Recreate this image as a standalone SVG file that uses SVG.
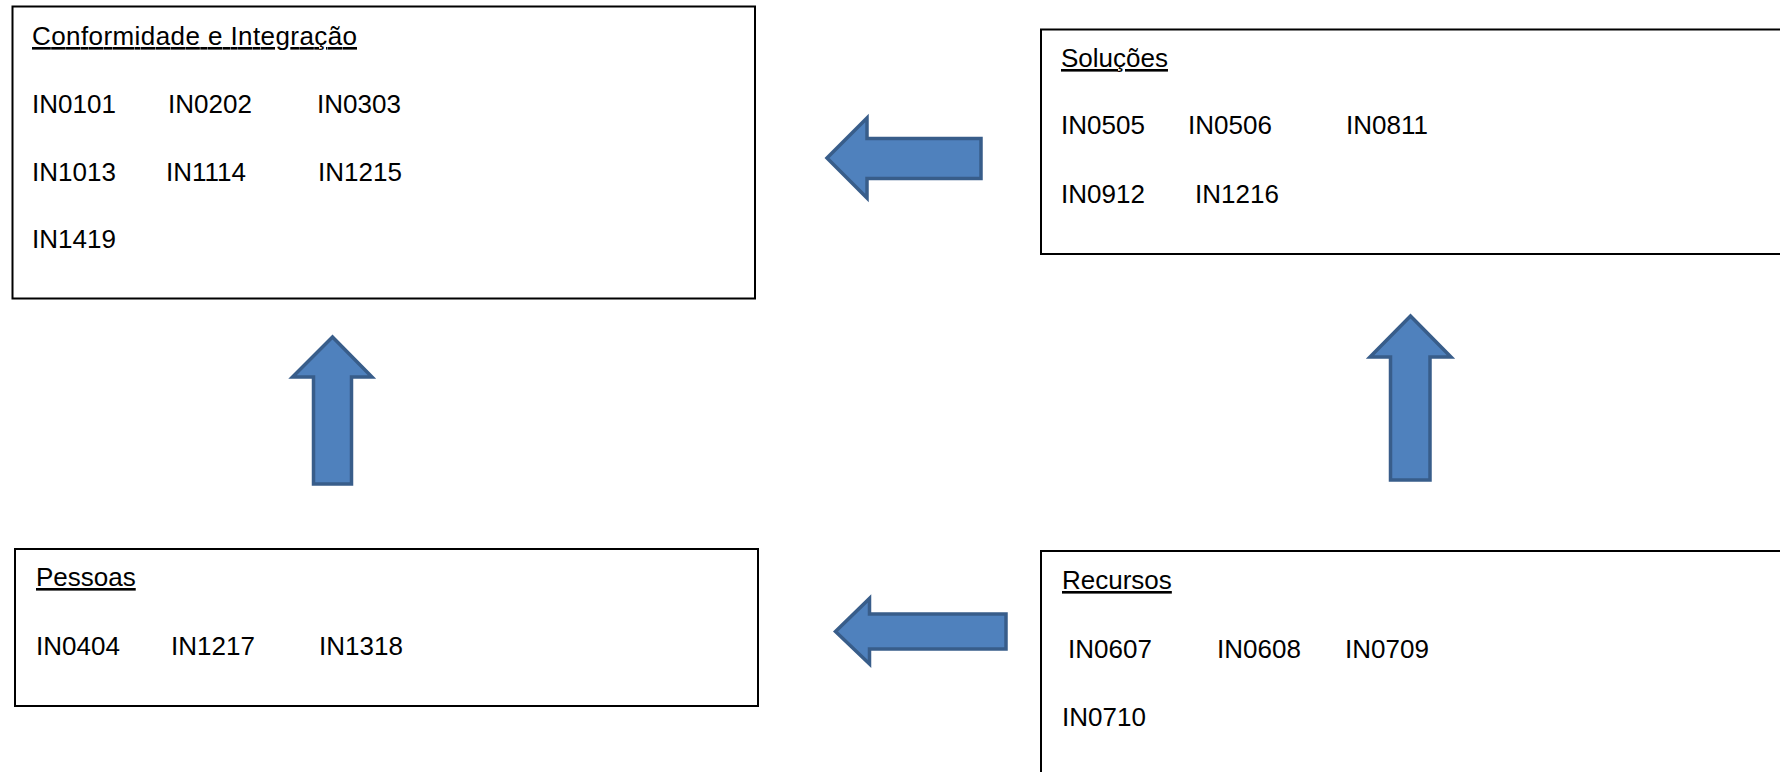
<svg xmlns="http://www.w3.org/2000/svg" width="1780" height="772" viewBox="0 0 1780 772">
<style>
.box{fill:#fff;stroke:#000;stroke-width:2}
.t{font-family:"Liberation Sans",Arial,sans-serif;font-size:26px;fill:#000}
.h{text-decoration:underline}
.arr{fill:#4F81BD;stroke:#385D8A;stroke-width:3.5;stroke-linejoin:miter}
</style>
<rect width="1780" height="772" fill="#fff"/>
<g id="node-conformidade">
<rect class="box" x="12.5" y="6.5" width="742.5" height="292"/>
<text class="t h" x="32" y="45" textLength="325">Conformidade e Integração</text>
<text class="t" x="32" y="113">IN0101</text>
<text class="t" x="168" y="113">IN0202</text>
<text class="t" x="317" y="113">IN0303</text>
<text class="t" x="32" y="181">IN1013</text>
<text class="t" x="166" y="181">IN1114</text>
<text class="t" x="318" y="181">IN1215</text>
<text class="t" x="32" y="248">IN1419</text>
</g>
<g id="node-solucoes">
<rect class="box" x="1041" y="29.5" width="760" height="224.5"/>
<text class="t h" x="1061" y="67">Soluções</text>
<text class="t" x="1061" y="134">IN0505</text>
<text class="t" x="1188" y="134">IN0506</text>
<text class="t" x="1346" y="134">IN0811</text>
<text class="t" x="1061" y="203">IN0912</text>
<text class="t" x="1195" y="203">IN1216</text>
</g>
<g id="node-pessoas">
<rect class="box" x="15" y="549" width="743" height="157"/>
<text class="t h" x="36" y="586">Pessoas</text>
<text class="t" x="36" y="655">IN0404</text>
<text class="t" x="171" y="655">IN1217</text>
<text class="t" x="319" y="655">IN1318</text>
</g>
<g id="node-recursos">
<rect class="box" x="1041" y="551" width="760" height="240"/>
<text class="t h" x="1062" y="589">Recursos</text>
<text class="t" x="1068" y="658">IN0607</text>
<text class="t" x="1217" y="658">IN0608</text>
<text class="t" x="1345" y="658">IN0709</text>
<text class="t" x="1062" y="726">IN0710</text>
</g>
<g id="connectors">
<polygon class="arr" points="827,158 867,118 867,138.5 981,138.5 981,178.5 867,178.5 867,198"/>
<polygon class="arr" points="835.5,631.5 869.5,598.5 869.5,614 1006,614 1006,649 869.5,649 869.5,664"/>
<polygon class="arr" points="332.5,337 372,377 351.5,377 351.5,484 313.5,484 313.5,377 292.5,377"/>
<polygon class="arr" points="1410.5,316 1451,357 1430,357 1430,480 1390.5,480 1390.5,357 1370,357"/>
</g>
</svg>
